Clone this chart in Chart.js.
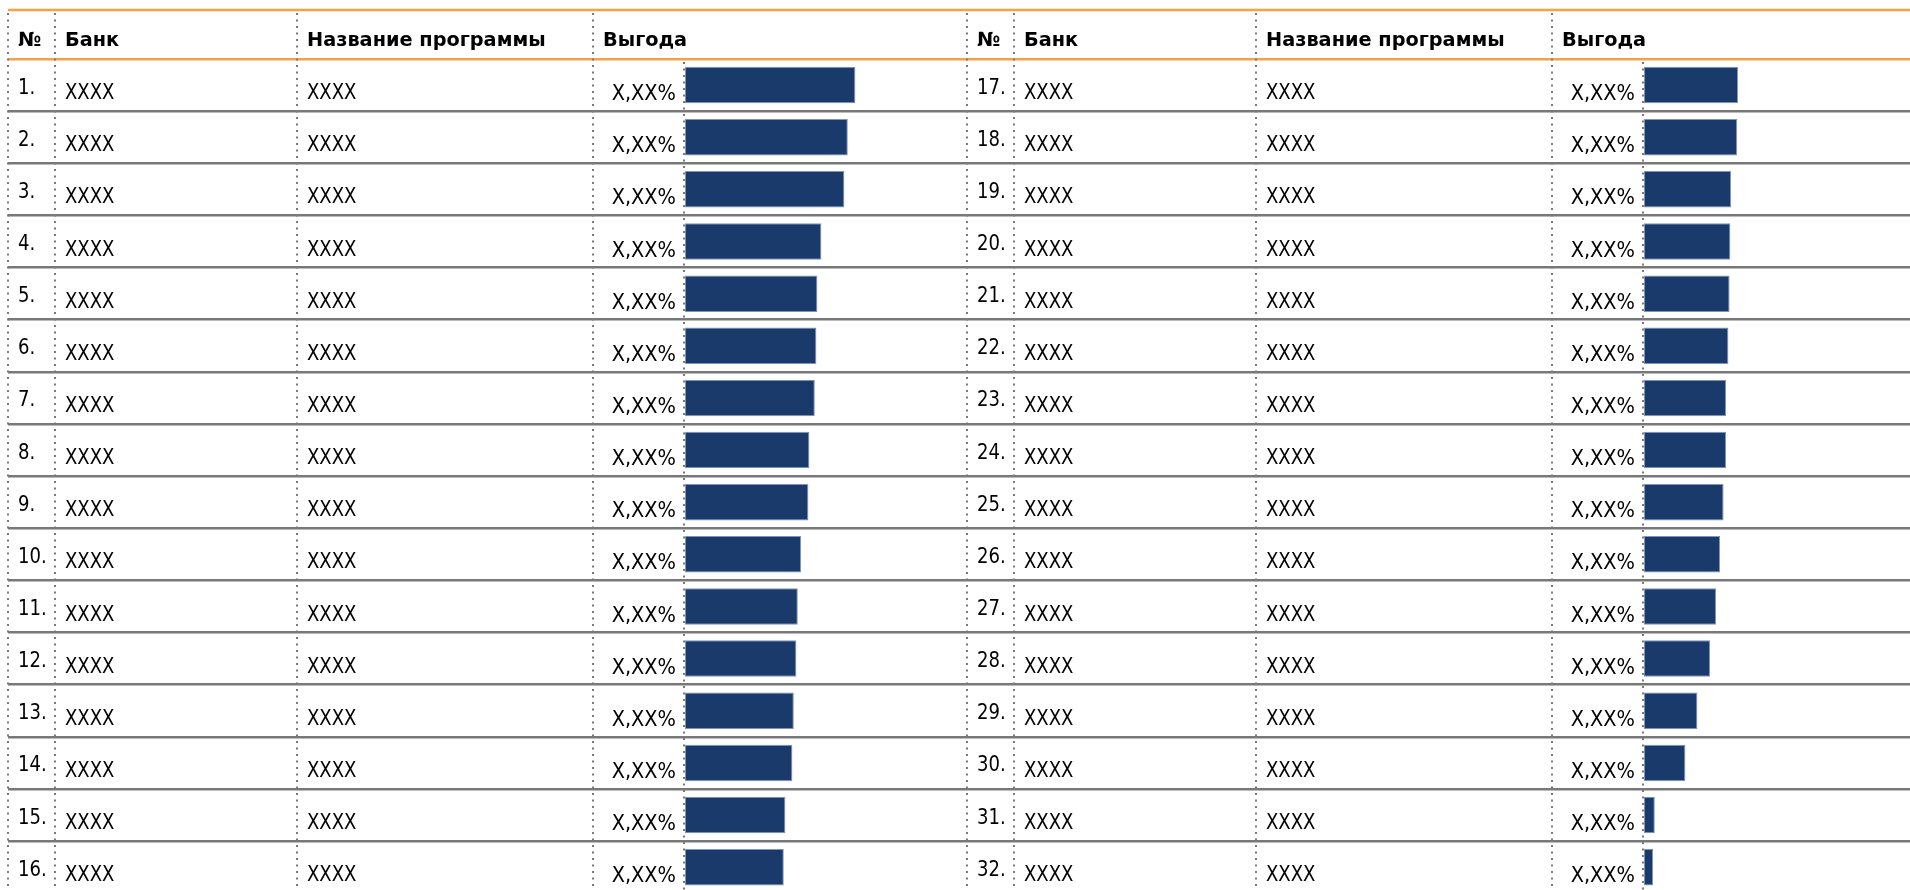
<!DOCTYPE html>
<html>
<head>
<meta charset="utf-8">
<script src="https://cdn.jsdelivr.net/npm/chart.js@4.4.1/dist/chart.umd.min.js"></script>
<style>
  html, body { margin: 0; padding: 0; overflow: hidden; background: #ffffff; width: 1910px; height: 890px; }
  .box { position: absolute; top: 0; width: 967px; height: 900px; }
  #leftBox { left: 0; }
  #rightBox { left: 959px; }
</style>
</head>
<body>
<div class="box" id="leftBox"><canvas id="cLeft"></canvas></div>
<div class="box" id="rightBox"><canvas id="cRight"></canvas></div>
<script>
// ---------------- DATA ----------------
const headers = ['№', 'Банк', 'Название программы', 'Выгода'];

const ranksLeft = ['1.', '2.', '3.', '4.', '5.', '6.', '7.', '8.', '9.', '10.', '11.', '12.', '13.', '14.', '15.', '16.'];
const ranksRight = ['17.', '18.', '19.', '20.', '21.', '22.', '23.', '24.', '25.', '26.', '27.', '28.', '29.', '30.', '31.', '32.'];

const banksLeft = ['XXXX', 'XXXX', 'XXXX', 'XXXX', 'XXXX', 'XXXX', 'XXXX', 'XXXX', 'XXXX', 'XXXX', 'XXXX', 'XXXX', 'XXXX', 'XXXX', 'XXXX', 'XXXX'];
const banksRight = ['XXXX', 'XXXX', 'XXXX', 'XXXX', 'XXXX', 'XXXX', 'XXXX', 'XXXX', 'XXXX', 'XXXX', 'XXXX', 'XXXX', 'XXXX', 'XXXX', 'XXXX', 'XXXX'];

const programsLeft = ['XXXX', 'XXXX', 'XXXX', 'XXXX', 'XXXX', 'XXXX', 'XXXX', 'XXXX', 'XXXX', 'XXXX', 'XXXX', 'XXXX', 'XXXX', 'XXXX', 'XXXX', 'XXXX'];
const programsRight = ['XXXX', 'XXXX', 'XXXX', 'XXXX', 'XXXX', 'XXXX', 'XXXX', 'XXXX', 'XXXX', 'XXXX', 'XXXX', 'XXXX', 'XXXX', 'XXXX', 'XXXX', 'XXXX'];

const benefitLabelsLeft = ['X,XX%', 'X,XX%', 'X,XX%', 'X,XX%', 'X,XX%', 'X,XX%', 'X,XX%', 'X,XX%', 'X,XX%', 'X,XX%', 'X,XX%', 'X,XX%', 'X,XX%', 'X,XX%', 'X,XX%', 'X,XX%'];
const benefitLabelsRight = ['X,XX%', 'X,XX%', 'X,XX%', 'X,XX%', 'X,XX%', 'X,XX%', 'X,XX%', 'X,XX%', 'X,XX%', 'X,XX%', 'X,XX%', 'X,XX%', 'X,XX%', 'X,XX%', 'X,XX%', 'X,XX%'];

// benefit values (relative units)
const benefitLeft = [8.52, 8.14, 7.97, 6.82, 6.62, 6.57, 6.49, 6.22, 6.17, 5.80, 5.64, 5.57, 5.44, 5.37, 5.02, 4.94];
const benefitRight = [4.70, 4.65, 4.35, 4.32, 4.28, 4.22, 4.10, 4.10, 3.98, 3.80, 3.60, 3.30, 2.67, 2.07, 0.54, 0.45];

const benefitAxisMax = 14.1;

// ---------------- STYLE ----------------
const ORANGE = '#f8a048';
const GRAY = '#787878';
const DOT = '#7a7a7a';
const BAR = '#1a3a6b';
const BAR_EDGE = '#7e95b8';
const FONT = '"DejaVu Sans", Verdana, sans-serif';
const geo = {
  tableLeft: 8, colBank: 55, colProgram: 297, colBenefit: 593,
  headerLine: 10, headerBaseline: 46,
  textPad: 10, valueGap: 9,
  bodySize: 22, bodyScale: 0.82, valueScale: 0.88, headSize: 20, headScale: 0.965
};

function drawText(ctx, text, x, y, bold, size, sx, align) {
  ctx.save();
  ctx.font = (bold ? 'bold ' : '') + size + 'px ' + FONT;
  ctx.fillStyle = '#000';
  ctx.textAlign = align || 'left';
  ctx.textBaseline = 'alphabetic';
  ctx.translate(x, y);
  ctx.scale(sx, 1);
  ctx.fillText(text, 0, 0);
  ctx.restore();
}

function dotted(ctx, x, y1, y2) {
  ctx.save();
  ctx.strokeStyle = DOT;
  ctx.lineWidth = 2;
  ctx.setLineDash([2, 4.5]);
  ctx.beginPath();
  ctx.moveTo(x, y1);
  ctx.lineTo(x, y2);
  ctx.stroke();
  ctx.restore();
}

const tablePlugin = {
  id: 'tablePlugin',
  afterDraw(chart, args, opts) {
    const ctx = chart.ctx;
    const area = chart.chartArea;
    const ys = chart.scales.y;
    const W = chart.width;
    // top orange rule
    ctx.save();
    ctx.strokeStyle = ORANGE;
    ctx.lineWidth = 2.5;
    ctx.beginPath();
    ctx.moveTo(geo.tableLeft, geo.headerLine);
    ctx.lineTo(W, geo.headerLine);
    ctx.stroke();
    ctx.restore();
    // column separators
    [geo.tableLeft, geo.colBank, geo.colProgram, geo.colBenefit].forEach(x => dotted(ctx, x, geo.headerLine + 3, area.bottom));
    dotted(ctx, area.left - 1, area.top + 3, area.bottom);
    // header
    const hx = [geo.tableLeft, geo.colBank, geo.colProgram, geo.colBenefit];
    headers.forEach((h, i) => drawText(ctx, h, hx[i] + geo.textPad, geo.headerBaseline, true, geo.headSize, geo.headScale));
    // rows
    const rowH = ys.getPixelForValue(1) - ys.getPixelForValue(0);
    opts.ranks.forEach((r, i) => {
      const bottom = ys.getPixelForValue(i) + rowH / 2;
      drawText(ctx, r, geo.tableLeft + geo.textPad, bottom - 17.5, false, geo.bodySize, geo.bodyScale);
      drawText(ctx, opts.banks[i], geo.colBank + geo.textPad, bottom - 12, false, geo.bodySize, geo.bodyScale);
      drawText(ctx, opts.programs[i], geo.colProgram + geo.textPad, bottom - 12, false, geo.bodySize, geo.bodyScale);
      drawText(ctx, opts.valueLabels[i], area.left - geo.valueGap, bottom - 11, false, geo.bodySize, geo.valueScale, 'right');
    });
  }
};

function makeTable(id, ranks, banks, programs, valueLabels, values) {
  const axisW = 685 - geo.tableLeft;
  return new Chart(document.getElementById(id), {
    type: 'bar',
    data: {
      labels: ranks,
      datasets: [{
        data: values,
        backgroundColor: BAR,
        borderColor: BAR_EDGE,
        borderWidth: 1,
        borderSkipped: false,
        categoryPercentage: 1.0,
        barPercentage: 0.70
      }]
    },
    options: {
      indexAxis: 'y',
      responsive: true,
      maintainAspectRatio: false,
      animation: false,
      devicePixelRatio: 1,
      layout: { padding: { left: geo.tableLeft, top: 59, right: 0, bottom: 900 - 59 - 834.24 } },
      scales: {
        x: { display: false, min: 0, max: benefitAxisMax },
        y: {
          type: 'category',
          offset: true,
          ticks: { display: false },
          border: { display: false },
          grid: {
            offset: true,
            drawTicks: true,
            tickLength: axisW,
            lineWidth: (c) => c.index === 0 ? 2.5 : 2.5,
            color: (c) => c.index === 0 ? ORANGE : GRAY
          },
          afterFit: (s) => { s.width = axisW; }
        }
      },
      plugins: {
        legend: { display: false },
        tooltip: { enabled: false },
        tablePlugin: { ranks, banks, programs, valueLabels }
      }
    },
    plugins: [tablePlugin]
  });
}

makeTable('cLeft', ranksLeft, banksLeft, programsLeft, benefitLabelsLeft, benefitLeft);
makeTable('cRight', ranksRight, banksRight, programsRight, benefitLabelsRight, benefitRight);
</script>
</body>
</html>
